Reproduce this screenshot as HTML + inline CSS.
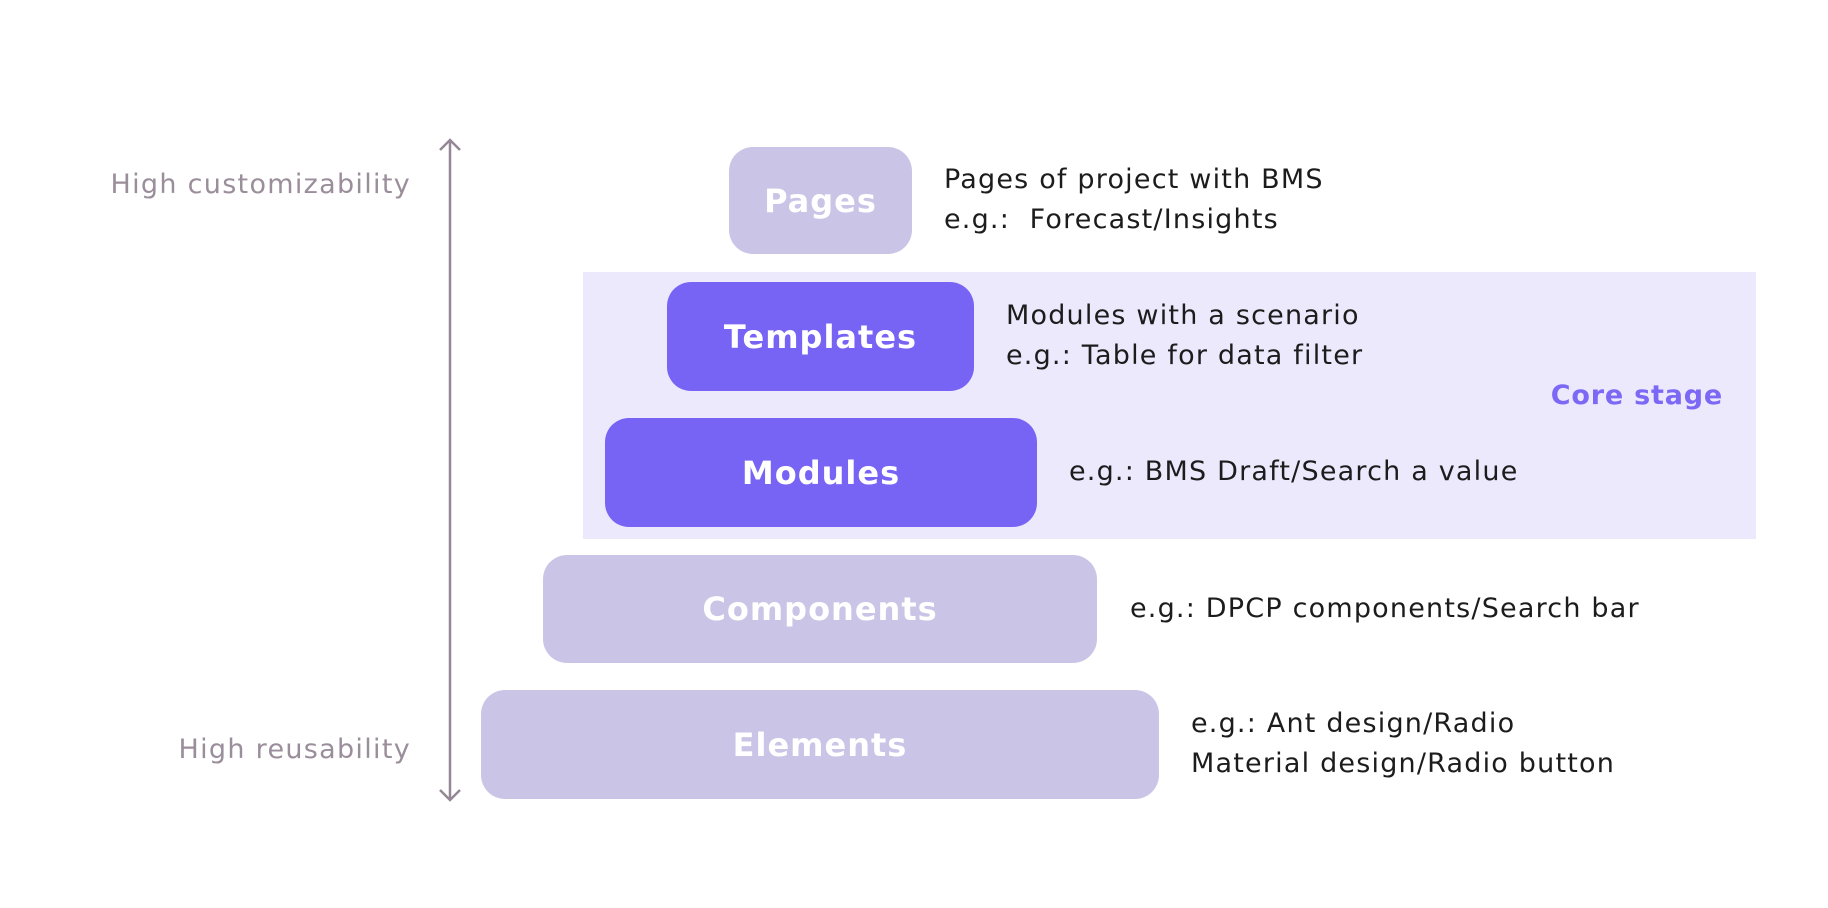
<!DOCTYPE html>
<html><head><meta charset="utf-8"><style>
body{margin:0;width:1828px;height:908px;background:#fff;position:relative;overflow:hidden;font-family:"DejaVu Sans","Liberation Sans",sans-serif}
.b{position:absolute;border-radius:24px;color:#fff;font-weight:bold;font-size:32px;letter-spacing:1px;display:flex;align-items:center;justify-content:center}
.l{background:#cac5e6}.d{background:#7764f5}
.t{position:absolute;font-size:27px;letter-spacing:1.2px;color:#1c1c1c;line-height:40px;white-space:nowrap}
.g{position:absolute;font-size:27px;letter-spacing:1.3px;color:#9b8e9b;white-space:nowrap}
</style></head><body>
<div style="position:absolute;left:583px;top:272px;width:1173px;height:267px;background:#ece9fc"></div>
<svg style="position:absolute;left:0;top:0" width="1828" height="908">
<line x1="450" y1="140" x2="450" y2="800" stroke="#958796" stroke-width="2.5"/>
<polyline points="440,150 450,140 460,150" fill="none" stroke="#958796" stroke-width="2.5"/>
<polyline points="440,790 450,800 460,790" fill="none" stroke="#958796" stroke-width="2.5"/>
</svg>
<div class="g" style="right:1417px;top:169px">High customizability</div>
<div class="g" style="right:1417px;top:734px">High reusability</div>
<div class="b l" style="left:729px;top:147px;width:183px;height:107px">Pages</div>
<div class="b d" style="left:667px;top:282px;width:307px;height:109px">Templates</div>
<div class="b d" style="left:605px;top:418px;width:432px;height:109px">Modules</div>
<div class="b l" style="left:543px;top:555px;width:554px;height:108px">Components</div>
<div class="b l" style="left:481px;top:690px;width:678px;height:109px">Elements</div>
<div class="t" style="left:944px;top:160px">Pages of project with BMS<br>e.g.:&nbsp; Forecast/Insights</div>
<div class="t" style="left:1006px;top:296px">Modules with a scenario<br>e.g.: Table for data filter</div>
<div class="t" style="left:1069px;top:452px">e.g.: BMS Draft/Search a value</div>
<div class="t" style="left:1130px;top:589px">e.g.: DPCP components/Search bar</div>
<div class="t" style="left:1191px;top:704px">e.g.: Ant design/Radio<br>Material design/Radio button</div>
<div style="position:absolute;right:105px;top:380px;font-size:27px;letter-spacing:0.8px;font-weight:bold;color:#7b68f5">Core stage</div>
</body></html>
